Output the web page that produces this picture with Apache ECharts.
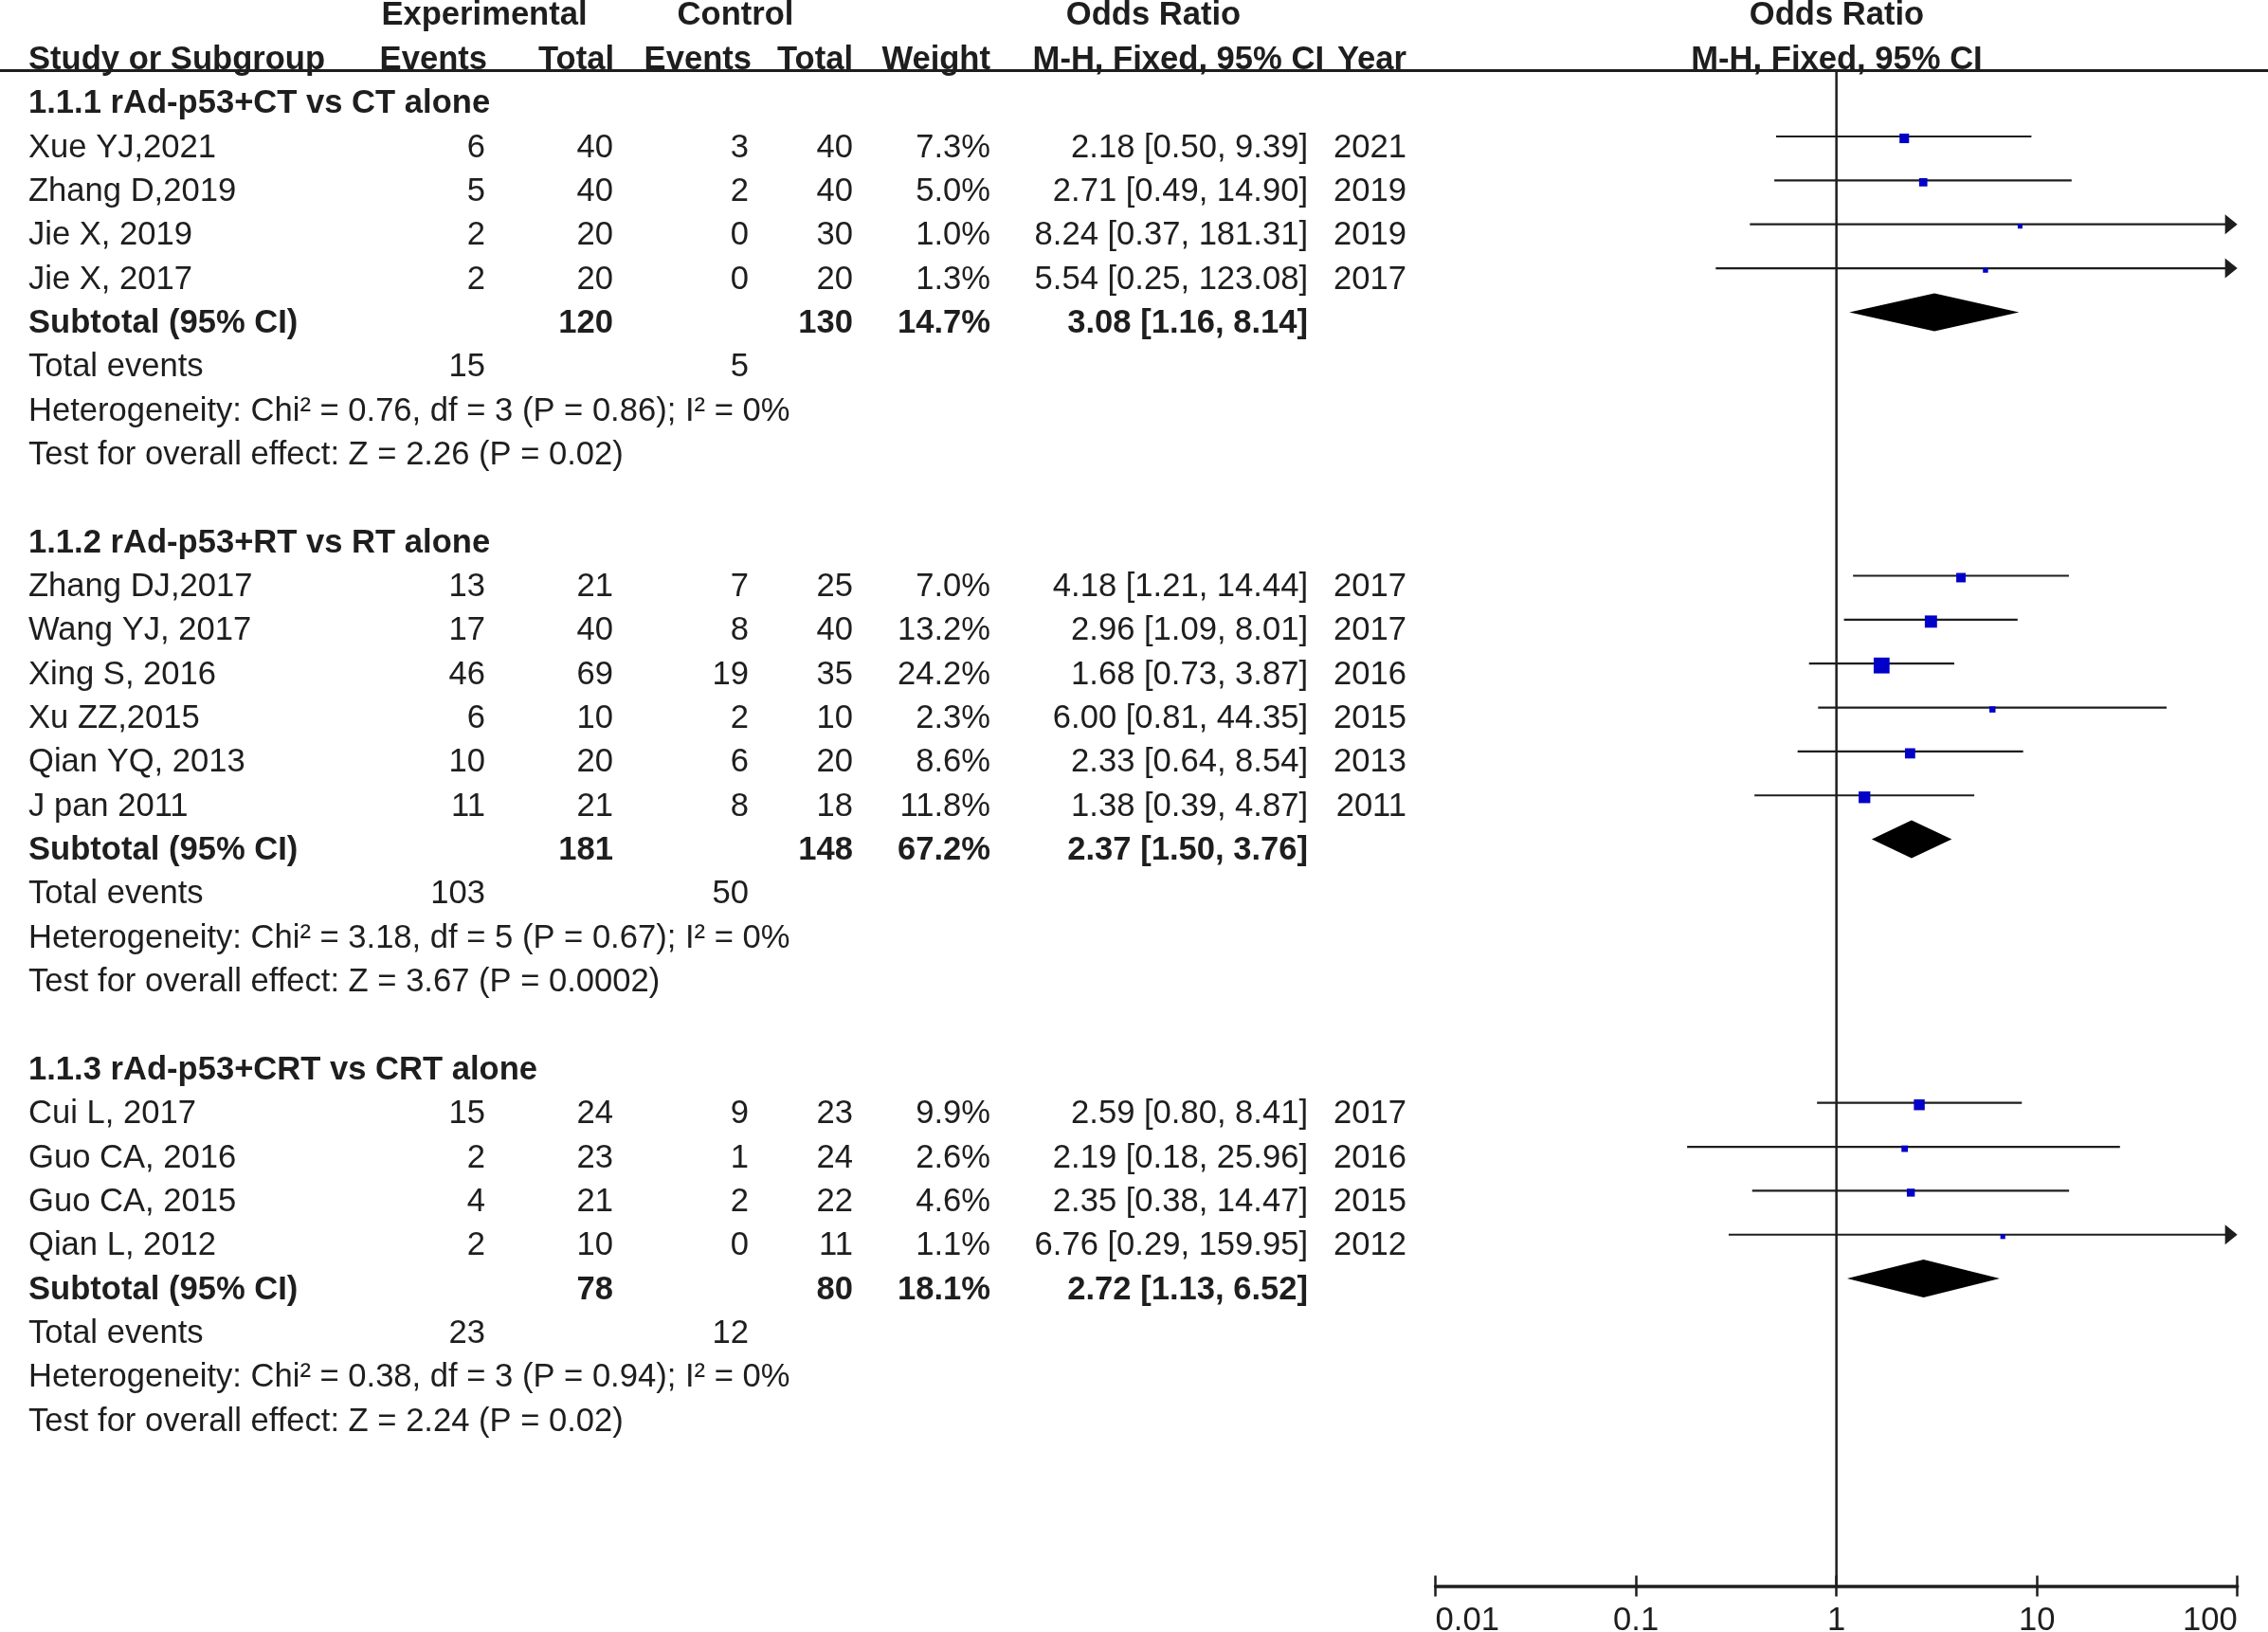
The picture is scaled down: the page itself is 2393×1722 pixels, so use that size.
<!DOCTYPE html>
<html lang="en">
<head>
<meta charset="UTF-8">
<title>Forest plot</title>
<script src="https://cdn.jsdelivr.net/npm/echarts@6/dist/echarts.min.js"></script>
<style>
  html, body { margin: 0; padding: 0; background: #fff; }
  #main { width: 2393px; height: 1722px; }
</style>
</head>
<body>
<div id="main"></div>
<script>
// ---- values ----
var groupTitles = ['1.1.1 rAd-p53+CT vs CT alone', '1.1.2 rAd-p53+RT vs RT alone', '1.1.3 rAd-p53+CRT vs CRT alone'];

var studyNames = ['Xue YJ,2021', 'Zhang D,2019', 'Jie X, 2019', 'Jie X, 2017',
  'Zhang DJ,2017', 'Wang YJ, 2017', 'Xing S, 2016', 'Xu ZZ,2015', 'Qian YQ, 2013', 'J pan 2011',
  'Cui L, 2017', 'Guo CA, 2016', 'Guo CA, 2015', 'Qian L, 2012'];
var studyGroup = [0, 0, 0, 0, 1, 1, 1, 1, 1, 1, 2, 2, 2, 2];
var expEvents = [6, 5, 2, 2, 13, 17, 46, 6, 10, 11, 15, 2, 4, 2];
var expTotals = [40, 40, 20, 20, 21, 40, 69, 10, 20, 21, 24, 23, 21, 10];
var ctlEvents = [3, 2, 0, 0, 7, 8, 19, 2, 6, 8, 9, 1, 2, 0];
var ctlTotals = [40, 40, 30, 20, 25, 40, 35, 10, 20, 18, 23, 24, 22, 11];
var weights = [7.3, 5.0, 1.0, 1.3, 7.0, 13.2, 24.2, 2.3, 8.6, 11.8, 9.9, 2.6, 4.6, 1.1];
var oddsRatios = [2.18, 2.71, 8.24, 5.54, 4.18, 2.96, 1.68, 6.00, 2.33, 1.38, 2.59, 2.19, 2.35, 6.76];
var ciLower = [0.50, 0.49, 0.37, 0.25, 1.21, 1.09, 0.73, 0.81, 0.64, 0.39, 0.80, 0.18, 0.38, 0.29];
var ciUpper = [9.39, 14.90, 181.31, 123.08, 14.44, 8.01, 3.87, 44.35, 8.54, 4.87, 8.41, 25.96, 14.47, 159.95];
var years = [2021, 2019, 2019, 2017, 2017, 2017, 2016, 2015, 2013, 2011, 2017, 2016, 2015, 2012];

var subExpTotals = [120, 181, 78];
var subCtlTotals = [130, 148, 80];
var subWeights = [14.7, 67.2, 18.1];
var subOR = [3.08, 2.37, 2.72];
var subLower = [1.16, 1.50, 1.13];
var subUpper = [8.14, 3.76, 6.52];
var totalExpEvents = [15, 103, 23];
var totalCtlEvents = [5, 50, 12];
var hetChi = ['0.76', '3.18', '0.38'];
var hetDf = [3, 5, 3];
var hetP = ['0.86', '0.67', '0.94'];
var hetI2 = [0, 0, 0];
var zValues = ['2.26', '3.67', '2.24'];
var zP = ['0.02', '0.0002', '0.02'];

var tickValues = [0.01, 0.1, 1, 10, 100];
var tickLabels = ['0.01', '0.1', '1', '10', '100'];

// ---- layout ----
var W = 2393, H = 1722;
var ROW_PX = 46.35, ROW0_PX = 144;       // pixel height of one row, pixel y of row 0
var AXIS_ROW = 33, LINE_ROW = -1.5;
var yMin = -ROW0_PX / ROW_PX;
var gridBottom = H - (ROW0_PX + AXIS_ROW * ROW_PX);
var FONT = '"Liberation Sans", Arial, Helvetica, sans-serif';
var FS = 34.6;
var TEXT_DY = 12;
var INK = '#1e1e1e';
var COL = { name: 30, expEv: 512, expTot: 647, ctlEv: 790, ctlTot: 900, weight: 1045, ci: 1380, year: 1484 };
var PLOT_LEFT = 1514.6, PLOT_RIGHT = 2360.7;

function fmtCI(or, lo, hi) {
  return or.toFixed(2) + ' [' + lo.toFixed(2) + ', ' + hi.toFixed(2) + ']';
}

// text cells of the table, placed on rows
var texts = [];
function put(x, row, text, align, bold) {
  texts.push({ value: [x, row], text: String(text), align: align, bold: !!bold });
}

put(511, -3, 'Experimental', 'center', true);
put(776, -3, 'Control', 'center', true);
put(1217, -3, 'Odds Ratio', 'center', true);
put(1938, -3, 'Odds Ratio', 'center', true);
put(COL.name, -2, 'Study or Subgroup', 'left', true);
put(514, -2, 'Events', 'right', true);
put(648, -2, 'Total', 'right', true);
put(793, -2, 'Events', 'right', true);
put(900, -2, 'Total', 'right', true);
put(1045, -2, 'Weight', 'right', true);
put(1397, -2, 'M-H, Fixed, 95% CI', 'right', true);
put(1484, -2, 'Year', 'right', true);
put(1938, -2, 'M-H, Fixed, 95% CI', 'center', true);

var studyRows = [], subtotalRows = [];
var row = -1;
groupTitles.forEach(function (title, g) {
  put(COL.name, row, title, 'left', true);
  row++;
  studyNames.forEach(function (name, i) {
    if (studyGroup[i] !== g) return;
    studyRows[i] = row;
    put(COL.name, row, name, 'left');
    put(COL.expEv, row, expEvents[i], 'right');
    put(COL.expTot, row, expTotals[i], 'right');
    put(COL.ctlEv, row, ctlEvents[i], 'right');
    put(COL.ctlTot, row, ctlTotals[i], 'right');
    put(COL.weight, row, weights[i].toFixed(1) + '%', 'right');
    put(COL.ci, row, fmtCI(oddsRatios[i], ciLower[i], ciUpper[i]), 'right');
    put(COL.year, row, years[i], 'right');
    row++;
  });
  subtotalRows[g] = row;
  put(COL.name, row, 'Subtotal (95% CI)', 'left', true);
  put(COL.expTot, row, subExpTotals[g], 'right', true);
  put(COL.ctlTot, row, subCtlTotals[g], 'right', true);
  put(COL.weight, row, subWeights[g].toFixed(1) + '%', 'right', true);
  put(COL.ci, row, fmtCI(subOR[g], subLower[g], subUpper[g]), 'right', true);
  row++;
  put(COL.name, row, 'Total events', 'left');
  put(COL.expEv, row, totalExpEvents[g], 'right');
  put(COL.ctlEv, row, totalCtlEvents[g], 'right');
  row++;
  put(COL.name, row, 'Heterogeneity: Chi\u00b2 = ' + hetChi[g] + ', df = ' + hetDf[g] +
    ' (P = ' + hetP[g] + '); I\u00b2 = ' + hetI2[g] + '%', 'left');
  row++;
  put(COL.name, row, 'Test for overall effect: Z = ' + zValues[g] + ' (P = ' + zP[g] + ')', 'left');
  row += 2;
});

var studyData = studyNames.map(function (n, i) {
  return [oddsRatios[i], studyRows[i], ciLower[i], ciUpper[i], weights[i]];
});
var diamondData = groupTitles.map(function (t, g) {
  return [subOR[g], subtotalRows[g], subLower[g], subUpper[g]];
});

var chart = echarts.init(document.getElementById('main'), null, { renderer: 'canvas' });

function yAxisCfg(idx) {
  return { type: 'value', gridIndex: idx, inverse: true, min: yMin, max: AXIS_ROW, show: false };
}

function tickLabel(v) {
  for (var k = 0; k < tickValues.length; k++) {
    if (Math.abs(Math.log10(v) - Math.log10(tickValues[k])) < 1e-6) return tickLabels[k];
  }
  return '';
}

var logAxisBase = {
  type: 'log', logBase: 10, gridIndex: 1, min: tickValues[0], max: tickValues[tickValues.length - 1],
  position: 'bottom', splitLine: { show: false }
};

var option = {
  backgroundColor: '#fff',
  animation: false,
  grid: [
    { left: 0, right: 0, top: 0, bottom: gridBottom, containLabel: false, outerBoundsMode: 'none' },
    { left: PLOT_LEFT, right: W - PLOT_RIGHT, top: 0, bottom: gridBottom, containLabel: false, outerBoundsMode: 'none' }
  ],
  xAxis: [
    { type: 'value', gridIndex: 0, min: 0, max: W, show: false },
    Object.assign({}, logAxisBase, {
      axisLine: { show: true, onZero: false, lineStyle: { color: INK, width: 3.5 } },
      axisTick: { show: true, inside: false, length: 11, lineStyle: { color: INK, width: 2.5 } },
      axisLabel: {
        show: true, margin: 19, color: INK, fontSize: FS, fontFamily: FONT,
        alignMinLabel: 'left', alignMaxLabel: 'right', formatter: tickLabel
      }
    }),
    Object.assign({}, logAxisBase, {
      axisLine: { show: false, onZero: false },
      axisTick: { show: true, inside: true, length: 11, lineStyle: { color: INK, width: 2.5 } },
      axisLabel: { show: false }
    })
  ],
  yAxis: [yAxisCfg(0), yAxisCfg(1)],
  series: [
    {
      // header rule
      type: 'line', xAxisIndex: 0, yAxisIndex: 0, symbol: 'none', silent: true,
      data: [[0, LINE_ROW], [W, LINE_ROW]],
      lineStyle: { color: INK, width: 3 }
    },
    {
      type: 'custom', xAxisIndex: 0, yAxisIndex: 0, silent: true,
      data: texts.map(function (t) { return t.value; }),
      encode: { x: 0, y: 1 },
      renderItem: function (params, api) {
        var t = texts[params.dataIndex];
        var p = api.coord([api.value(0), api.value(1)]);
        return {
          type: 'text', x: p[0], y: p[1] + TEXT_DY,
          style: {
            text: t.text, fill: INK,
            font: (t.bold ? 'bold ' : '') + FS + 'px ' + FONT,
            textAlign: t.align, textVerticalAlign: 'middle',
            align: t.align, verticalAlign: 'middle'
          }
        };
      }
    },
    {
      // line of no effect
      type: 'line', xAxisIndex: 1, yAxisIndex: 1, symbol: 'none', silent: true,
      data: [[1, LINE_ROW], [1, AXIS_ROW]],
      lineStyle: { color: INK, width: 2.5 }
    },
    {
      type: 'custom', xAxisIndex: 1, yAxisIndex: 1, silent: true,
      data: studyData, encode: { x: 0, y: 1 },
      renderItem: function (params, api) {
        var or = api.value(0), r = api.value(1), lo = api.value(2), hi = api.value(3), w = api.value(4);
        var xMax = tickValues[tickValues.length - 1];
        var arrow = hi > xMax;
        var p0 = api.coord([lo, r]);
        var p1 = api.coord([Math.min(hi, xMax), r]);
        var pc = api.coord([or, r]);
        var kids = [{
          type: 'line',
          shape: { x1: p0[0], y1: p0[1], x2: p1[0] - (arrow ? 8 : 0), y2: p1[1] },
          style: { stroke: INK, lineWidth: 2.2 }
        }];
        if (arrow) {
          kids.push({
            type: 'polygon',
            shape: { points: [[p1[0], p1[1]], [p1[0] - 13, p1[1] - 10.5], [p1[0] - 13, p1[1] + 10.5]] },
            style: { fill: INK }
          });
        }
        var s = 2 + 3 * Math.sqrt(w);
        kids.push({
          type: 'rect',
          shape: { x: pc[0] - s / 2, y: pc[1] - s / 2 + 2, width: s, height: s },
          style: { fill: '#0000c8' }
        });
        return { type: 'group', children: kids };
      }
    },
    {
      type: 'custom', xAxisIndex: 1, yAxisIndex: 1, silent: true,
      data: diamondData, encode: { x: 0, y: 1 },
      renderItem: function (params, api) {
        var or = api.value(0), r = api.value(1);
        var pl = api.coord([api.value(2), r]);
        var pr = api.coord([api.value(3), r]);
        var pc = api.coord([or, r]);
        var half = 20;
        return {
          type: 'polygon',
          shape: { points: [[pl[0], pl[1]], [pc[0], pc[1] - half], [pr[0], pr[1]], [pc[0], pc[1] + half]] },
          style: { fill: '#000' }
        };
      }
    }
  ]
};

chart.setOption(option);
</script>
</body>
</html>
